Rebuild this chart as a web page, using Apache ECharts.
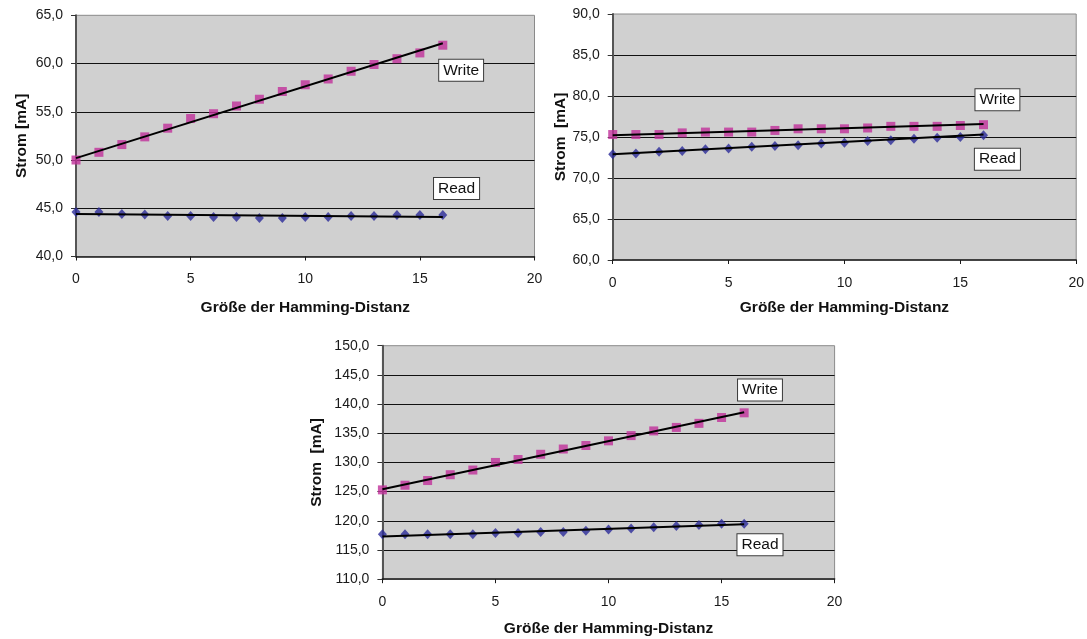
<!DOCTYPE html>
<html>
<head>
<meta charset="utf-8">
<script src="https://cdn.jsdelivr.net/npm/echarts@6/dist/echarts.min.js"></script>
<style>
  html, body { margin: 0; padding: 0; background: #fff; }
  #chart { width: 1087px; height: 639px; }
</style>
</head>
<body>
<div id="chart"></div>
<script>
// Hamming distance (x) and measured current in mA for three set-ups
const hamming = [0, 1, 2, 3, 4, 5, 6, 7, 8, 9, 10, 11, 12, 13, 14, 15, 16];

const write1 = [50.0, 50.8, 51.6, 52.4, 53.3, 54.3, 54.8, 55.6, 56.3, 57.1, 57.8, 58.4, 59.2, 59.9, 60.5, 61.1, 61.9];
const read1  = [44.6, 44.6, 44.4, 44.35, 44.2, 44.2, 44.1, 44.1, 44.0, 44.0, 44.1, 44.1, 44.2, 44.2, 44.3, 44.3, 44.3];

const write2 = [75.3, 75.3, 75.3, 75.5, 75.6, 75.6, 75.6, 75.8, 76.0, 76.0, 76.0, 76.1, 76.3, 76.3, 76.3, 76.4, 76.5];
const read2  = [72.9, 73.0, 73.2, 73.3, 73.5, 73.6, 73.8, 73.9, 74.0, 74.2, 74.3, 74.5, 74.6, 74.8, 74.9, 75.0, 75.2];

const write3 = [125.3, 126.1, 126.9, 127.9, 128.7, 130.0, 130.5, 131.4, 132.3, 132.9, 133.7, 134.6, 135.4, 136.0, 136.7, 137.7, 138.5];
const read3  = [117.7, 117.7, 117.7, 117.7, 117.7, 117.9, 117.9, 118.1, 118.1, 118.3, 118.5, 118.7, 118.9, 119.1, 119.3, 119.5, 119.5];

// Trend lines: start and end values over the measured range
const trendX = [0, 16];
const write1Trend = [50.2, 62.1];
const read1Trend  = [44.4, 44.1];
const write2Trend = [75.2, 76.6];
const read2Trend  = [72.9, 75.3];
const write3Trend = [125.4, 138.6];
const read3Trend  = [117.3, 119.4];

// Axis ranges
const xRange = [0, 20];
const yRanges = [[40, 65], [60, 90], [110, 150]];

const seriesLabels = ['Write', 'Read'];
const yTitles = ['Strom [mA]', 'Strom  [mA]', 'Strom  [mA]'];
const xTitle = 'Größe der Hamming-Distanz';

const WRITE_COLOR = '#c02f9a';
const READ_COLOR = '#2a2a98';
const FONT = '"Liberation Sans", Arial, sans-serif';

const pairs = (xs, ys) => xs.map((x, i) => [x, ys[i]]);

const grids = [
  { left: 76, top: 15.3, width: 458.5, height: 241.2 },
  { left: 612.7, top: 14, width: 464.5, height: 246 },
  { left: 382.4, top: 345.7, width: 452.2, height: 233.5 }
];

const yNameGaps = [46, 41, 58];
const xNameGaps = [43, 40, 42];

// Label box anchor positions (data coordinates) for each panel
const labelSpots = [
  { write: [16.8, 59.3], read: [16.6, 47.05] },
  { write: [16.6, 79.55], read: [16.6, 72.3] },
  { write: [16.7, 142.4], read: [16.7, 115.9] }
];

const panels = [
  { write: write1, read: read1, wt: write1Trend, rt: read1Trend },
  { write: write2, read: read2, wt: write2Trend, rt: read2Trend },
  { write: write3, read: read3, wt: write3Trend, rt: read3Trend }
];

const boxLabel = (text) => ({
  show: true,
  position: 'inside',
  formatter: text,
  fontFamily: FONT,
  fontSize: 15.5,
  color: '#111',
  backgroundColor: '#fff',
  borderColor: '#3a3a3a',
  borderWidth: 1,
  padding: [3, 4, 2, 4]
});

const option = {
  animation: false,
  backgroundColor: '#fff',
  grid: grids.map(g => Object.assign({
    show: true,
    backgroundColor: '#d0d0d0',
    borderColor: '#8a8a8a',
    borderWidth: 1,
    containLabel: false
  }, g)),
  xAxis: grids.map((g, i) => ({
    type: 'value',
    gridIndex: i,
    min: xRange[0],
    max: xRange[1],
    interval: 5,
    name: xTitle,
    nameLocation: 'middle',
    nameGap: xNameGaps[i],
    nameTextStyle: { fontFamily: FONT, fontSize: 15.5, fontWeight: 'bold', color: '#111' },
    axisLine: { show: true, onZero: false, lineStyle: { color: '#1a1a1a', width: 1.5 } },
    axisTick: { show: true, length: 4, lineStyle: { color: '#1a1a1a' } },
    axisLabel: { fontFamily: FONT, fontSize: 14, color: '#1a1a1a', margin: 16 },
    splitLine: { show: false }
  })),
  yAxis: grids.map((g, i) => ({
    type: 'value',
    gridIndex: i,
    min: yRanges[i][0],
    max: yRanges[i][1],
    interval: 5,
    name: yTitles[i],
    nameLocation: 'middle',
    nameGap: yNameGaps[i],
    nameRotate: 90,
    nameTextStyle: { fontFamily: FONT, fontSize: 15.5, fontWeight: 'bold', color: '#111' },
    axisLine: { show: true, onZero: false, lineStyle: { color: '#555', width: 2 } },
    axisTick: { show: true, length: 5, lineStyle: { color: '#333' } },
    axisLabel: {
      fontFamily: FONT, fontSize: 14, color: '#1a1a1a', margin: 13,
      formatter: v => v.toFixed(1).replace('.', ',')
    },
    splitLine: { show: true, showMinLine: false, showMaxLine: false, lineStyle: { color: '#111', width: 1 } }
  })),
  series: []
};

panels.forEach((p, i) => {
  option.series.push({
    type: 'scatter',
    name: seriesLabels[0],
    xAxisIndex: i, yAxisIndex: i,
    symbol: 'rect',
    symbolSize: 9,
    itemStyle: { color: WRITE_COLOR },
    data: pairs(hamming, p.write),
    z: 3
  });
  option.series.push({
    type: 'scatter',
    name: seriesLabels[1],
    xAxisIndex: i, yAxisIndex: i,
    symbol: 'diamond',
    symbolSize: [9, 10],
    itemStyle: { color: READ_COLOR },
    data: pairs(hamming, p.read),
    z: 3
  });
  option.series.push({
    type: 'line',
    xAxisIndex: i, yAxisIndex: i,
    showSymbol: false,
    symbol: 'none',
    lineStyle: { color: '#000', width: 2 },
    data: pairs(trendX, p.wt),
    z: 4,
    markPoint: {
      symbol: 'rect', symbolSize: 1,
      itemStyle: { color: 'rgba(0,0,0,0)' },
      data: [{ coord: labelSpots[i].write, label: boxLabel(seriesLabels[0]) }]
    }
  });
  option.series.push({
    type: 'line',
    xAxisIndex: i, yAxisIndex: i,
    showSymbol: false,
    symbol: 'none',
    lineStyle: { color: '#000', width: 2 },
    data: pairs(trendX, p.rt),
    z: 4,
    markPoint: {
      symbol: 'rect', symbolSize: 1,
      itemStyle: { color: 'rgba(0,0,0,0)' },
      data: [{ coord: labelSpots[i].read, label: boxLabel(seriesLabels[1]) }]
    }
  });
});

const chart = echarts.init(document.getElementById('chart'), null, { renderer: 'canvas' });
chart.setOption(option);
</script>
</body>
</html>
